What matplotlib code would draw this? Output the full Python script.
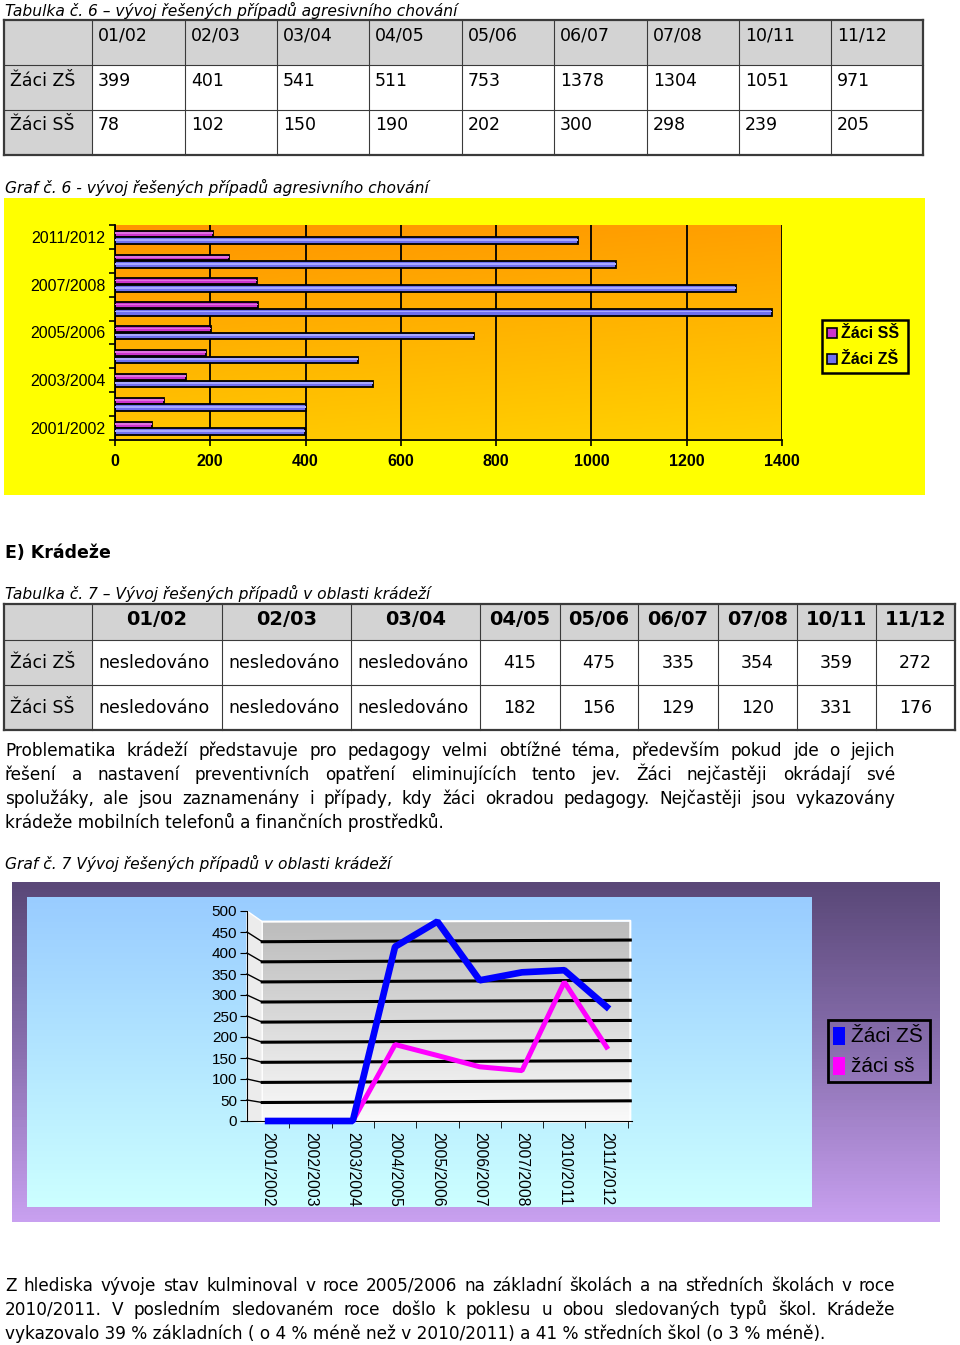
import numpy as np
import matplotlib
matplotlib.use("Agg")
import matplotlib.pyplot as plt
from matplotlib.patches import Rectangle, Polygon
from matplotlib.colors import LinearSegmentedColormap

plt.rcParams["font.family"] = ["DejaVu Sans"]

W, H = 960, 1345

# ---- data ----
periods = ["01/02", "02/03", "03/04", "04/05", "05/06", "06/07", "07/08", "10/11", "11/12"]
years = ["2001/2002", "2002/2003", "2003/2004", "2004/2005", "2005/2006",
         "2006/2007", "2007/2008", "2010/2011", "2011/2012"]
row_names = ["Žáci ZŠ", "Žáci SŠ"]

agr_zs = [399, 401, 541, 511, 753, 1378, 1304, 1051, 971]
agr_ss = [78, 102, 150, 190, 202, 300, 298, 239, 205]

kr_zs = [None, None, None, 415, 475, 335, 354, 359, 272]
kr_ss = [None, None, None, 182, 156, 129, 120, 331, 176]
not_tracked = "nesledováno"

graf6_labels = ["Žáci SŠ", "Žáci ZŠ"]
graf7_labels = ["Žáci ZŠ", "žáci sš"]

para1 = [
    "Problematika krádeží představuje pro pedagogy velmi obtížné téma, především pokud jde o jejich",
    "řešení a  nastavení preventivních opatření eliminujících tento jev. Žáci nejčastěji okrádají své",
    "spolužáky, ale jsou zaznamenány i případy, kdy žáci okradou pedagogy. Nejčastěji jsou vykazovány",
    "krádeže mobilních telefonů a finančních prostředků.",
]
para2 = [
    "Z hlediska vývoje stav kulminoval v roce 2005/2006 na základní školách a na středních školách v roce",
    "2010/2011. V posledním sledovaném roce došlo k poklesu u obou sledovaných typů škol. Krádeže",
    "vykazovalo 39 % základních ( o 4 % méně než v 2010/2011) a 41 % středních škol (o 3 % méně).",
]

fig = plt.figure(figsize=(9.6, 13.45), dpi=100)
page = fig.add_axes([0, 0, 1, 1])
page.axis("off")


def px_axes(x0, y0, x1, y1):
    return fig.add_axes([x0 / W, 1 - y1 / H, (x1 - x0) / W, (y1 - y0) / H])


def caption(y, s, **kw):
    page.text(5, y, s, fontsize=11.2, style="italic", va="baseline", **kw)


gray = "#d3d3d3"
lc = "#3a3a3a"
fs_cell = 12.5

# ---- table 6 ----
caption(16, "Tabulka č. 6 – vývoj řešených případů agresivního chování")
t1_x = [4, 92, 185, 277, 369, 462, 554, 647, 739, 831, 923]
t1_y = [20, 65, 110, 155]
page.add_patch(Rectangle((4, 20), 919, 45, fc=gray, ec="none"))
page.add_patch(Rectangle((4, 65), 88, 90, fc=gray, ec="none"))
for x in t1_x:
    page.plot([x, x], [20, 155], color=lc, lw=1.6 if x in (4, 923) else 0.8)
for y in t1_y:
    page.plot([4, 923], [y, y], color=lc, lw=1.6 if y in (20, 155) else 0.8)
for i, p in enumerate(periods):
    page.text(t1_x[i + 1] + 6, 41, p, fontsize=fs_cell, va="baseline")
    page.text(t1_x[i + 1] + 6, 86, str(agr_zs[i]), fontsize=fs_cell, va="baseline")
    page.text(t1_x[i + 1] + 6, 130, str(agr_ss[i]), fontsize=fs_cell, va="baseline")
page.text(10, 86, row_names[0], fontsize=fs_cell, va="baseline")
page.text(10, 130, row_names[1], fontsize=fs_cell, va="baseline")

# ---- graf 6 ----
caption(193, "Graf č. 6 - vývoj řešených případů agresivního chování")
page.add_patch(Rectangle((4, 198), 921, 297, fc="#ffff00", ec="none"))

ax6 = px_axes(115, 225, 782, 440)
ax6.set_facecolor("none")
orange = LinearSegmentedColormap.from_list("og", ["#ff9400", "#ffd200"])
gx, gy = np.meshgrid(np.linspace(0, 1, 200), np.linspace(0, 1, 100))
ax6.imshow(0.8 * gy + 0.2 * gx, cmap=orange, aspect="auto", origin="upper",
           extent=(0, 1400, -0.5, 8.5), zorder=0)
pos = np.arange(len(years))
ax6.barh(pos + 0.14, agr_ss, height=0.25, color="#cc33cc", edgecolor="black", lw=1.3, zorder=2)
ax6.barh(pos - 0.15, agr_zs, height=0.28, color="#7070f0", edgecolor="black", lw=1.3, zorder=2)
ax6.barh(pos - 0.12, agr_zs, height=0.08, color="#a8a8ff", lw=0, zorder=3)
ax6.barh(pos + 0.17, agr_ss, height=0.07, color="#e070e0", lw=0, zorder=3)
ax6.set_xlim(0, 1400)
ax6.set_ylim(-0.5, 8.5)
ax6.set_xticks(range(0, 1401, 200))
ax6.grid(axis="x", color="black", lw=1.3, zorder=1)
ax6.set_axisbelow(True)
ax6.set_yticks(pos[::2])
ax6.set_yticklabels(years[::2], family="Liberation Sans", fontsize=11.5)
ax6.set_yticks(np.arange(-0.5, 9, 1), minor=True)
ax6.tick_params(axis="y", which="major", length=0, pad=7)
ax6.tick_params(axis="y", which="minor", length=4, width=1.2, direction="out")
ax6.tick_params(axis="x", length=4, width=1.2, pad=6)
for lab in ax6.get_xticklabels():
    lab.set_family("Liberation Sans")
    lab.set_fontweight("bold")
    lab.set_fontsize(11.5)
for s in ("top", "right"):
    ax6.spines[s].set_visible(False)
for s in ("left", "bottom"):
    ax6.spines[s].set_linewidth(1.3)

# legend 6
page.add_patch(Rectangle((822, 320), 86, 53, fc="#ffff00", ec="black", lw=1.8))
for k, (lab, col) in enumerate(zip(graf6_labels, ["#cc33cc", "#7070f0"])):
    yy = 333 + 26 * k
    page.add_patch(Rectangle((827, yy - 5), 10, 10, fc=col, ec="black", lw=1.2))
    page.text(841, yy, lab, fontsize=11.5, family="Liberation Sans",
              fontweight="bold", va="center")

# ---- E) Kradeze ----
page.text(5, 558, "E) Krádeže", fontsize=12.5, fontweight="bold", va="baseline")
caption(599, "Tabulka č. 7 – Vývoj řešených případů v oblasti krádeží")

t2_x = [4, 92, 222, 351, 480, 560, 638, 718, 797, 876, 955]
t2_y = [604, 640, 685, 730]
page.add_patch(Rectangle((4, 604), 951, 36, fc=gray, ec="none"))
page.add_patch(Rectangle((4, 640), 88, 90, fc=gray, ec="none"))
for x in t2_x:
    page.plot([x, x], [604, 730], color=lc, lw=1.6 if x in (4, 955) else 0.8)
for y in t2_y:
    page.plot([4, 955], [y, y], color=lc, lw=1.6 if y in (604, 730) else 0.8)
for i, p in enumerate(periods):
    xc = (t2_x[i + 1] + t2_x[i + 2]) / 2
    page.text(xc, 625, p, fontsize=14, fontweight="bold", ha="center", va="baseline")
    for val, yb in ((kr_zs[i], 668), (kr_ss[i], 713)):
        if val is None:
            page.text(t2_x[i + 1] + 6, yb, not_tracked, fontsize=fs_cell, va="baseline")
        else:
            page.text(xc, yb, str(val), fontsize=fs_cell, ha="center", va="baseline")
page.text(10, 668, row_names[0], fontsize=fs_cell, va="baseline")
page.text(10, 713, row_names[1], fontsize=fs_cell, va="baseline")


def paragraph(lines, y0, dy, x0=5, x1=895, size=12.2):
    renderer = fig.canvas.get_renderer()
    for k, line in enumerate(lines):
        y = y0 + k * dy
        if k == len(lines) - 1:
            page.text(x0, y, line, fontsize=size, va="baseline")
            continue
        words = line.split()
        objs = [page.text(0, y, w, fontsize=size, va="baseline") for w in words]
        widths = [o.get_window_extent(renderer).width for o in objs]
        gap = max((x1 - x0 - sum(widths)) / (len(words) - 1), 3)
        x = x0
        for o, w in zip(objs, widths):
            o.set_x(x)
            x += w + gap


page.set_xlim(0, W)
page.set_ylim(H, 0)
paragraph(para1, 756, 24)

# ---- graf 7 ----
caption(869, "Graf č. 7 Vývoj řešených případů v oblasti krádeží")
purple = LinearSegmentedColormap.from_list("pu", ["#5a4878", "#8a70b0", "#c8a0f0"])
page.imshow(np.linspace(0, 1, 100)[:, None], cmap=purple, aspect="auto",
            origin="upper", extent=(12, 940, 1222, 882), zorder=0)
sky = LinearSegmentedColormap.from_list("sk", ["#99ccff", "#ccffff"])
page.imshow(np.linspace(0, 1, 100)[:, None], cmap=sky, aspect="auto",
            origin="upper", extent=(27, 812, 1207, 897), zorder=0.5)

ax7 = px_axes(247, 911, 632, 1121)
ax7.set_facecolor("none")
wx0, wx1 = -0.14, 8.56


def wall_y(v):
    return 0.957 * v - 3.8


greys = LinearSegmentedColormap.from_list("gr", ["#bcbcbc", "#fafafa"])
ax7.imshow(np.linspace(0, 1, 100)[:, None], cmap=greys, aspect="auto", origin="upper",
           extent=(wx0, wx1, wall_y(0), wall_y(500)), zorder=0, clip_on=False)
ax7.add_patch(Polygon([(-0.5, 0), (-0.5, 500), (wx0, wall_y(500)), (wx0, wall_y(0))],
                      closed=True, fc="#ececec", ec="white", lw=1, zorder=0.2, clip_on=False))
ax7.plot([wx0, wx1, wx1], [wall_y(500), wall_y(500) + 2, wall_y(0)], color="white",
         lw=1.5, zorder=0.3, clip_on=False)
yt = np.arange(0, 501, 50)
for v in yt[1:-1]:
    ax7.plot([-0.5, wx0], [v, wall_y(v)], color="black", lw=1, zorder=1, clip_on=False)
    ax7.plot([wx0, wx1], [wall_y(v), wall_y(v) + 4], color="black", lw=2.2,
             zorder=1, clip_on=False)

xpos = np.arange(len(years))
ss_plot = [0 if v is None else v for v in kr_ss]
zs_plot = [0 if v is None else v for v in kr_zs]
ax7.plot(xpos, ss_plot, color="#ff00ff", lw=3.6, solid_joinstyle="bevel", zorder=3, clip_on=False)
ax7.plot(xpos, zs_plot, color="#0000ff", lw=4.8, solid_joinstyle="bevel", zorder=4, clip_on=False)
ax7.set_xlim(-0.5, 8.6)
ax7.set_ylim(0, 500)
ax7.set_yticks(yt)
ax7.set_yticklabels([str(v) for v in yt], family="Liberation Sans", fontsize=11)
ax7.tick_params(axis="y", length=5, pad=2)
ax7.set_xticks(xpos)
ax7.set_xticklabels(years, rotation=270, family="Liberation Sans", fontsize=11.3)
ax7.set_xticks(np.arange(0.5, 9, 1), minor=True)
ax7.tick_params(axis="x", which="major", length=0, pad=8)
ax7.tick_params(axis="x", which="minor", length=5)
for s in ("top", "right"):
    ax7.spines[s].set_visible(False)

# legend 7
page.add_patch(Rectangle((828, 1020), 102, 62, fc="none", ec="black", lw=2, zorder=2))
for k, (lab, col) in enumerate(zip(graf7_labels, ["#0000ff", "#ff00ff"])):
    yy = 1036 + 30 * k
    page.add_patch(Rectangle((833, yy - 9), 12, 18, fc=col, ec="none", zorder=2))
    page.text(851, yy, lab, fontsize=15, family="Liberation Sans", va="center", zorder=2)

paragraph(para2, 1291, 24)

page.set_xlim(0, W)
page.set_ylim(H, 0)
fig.savefig("out.png", dpi=100)
